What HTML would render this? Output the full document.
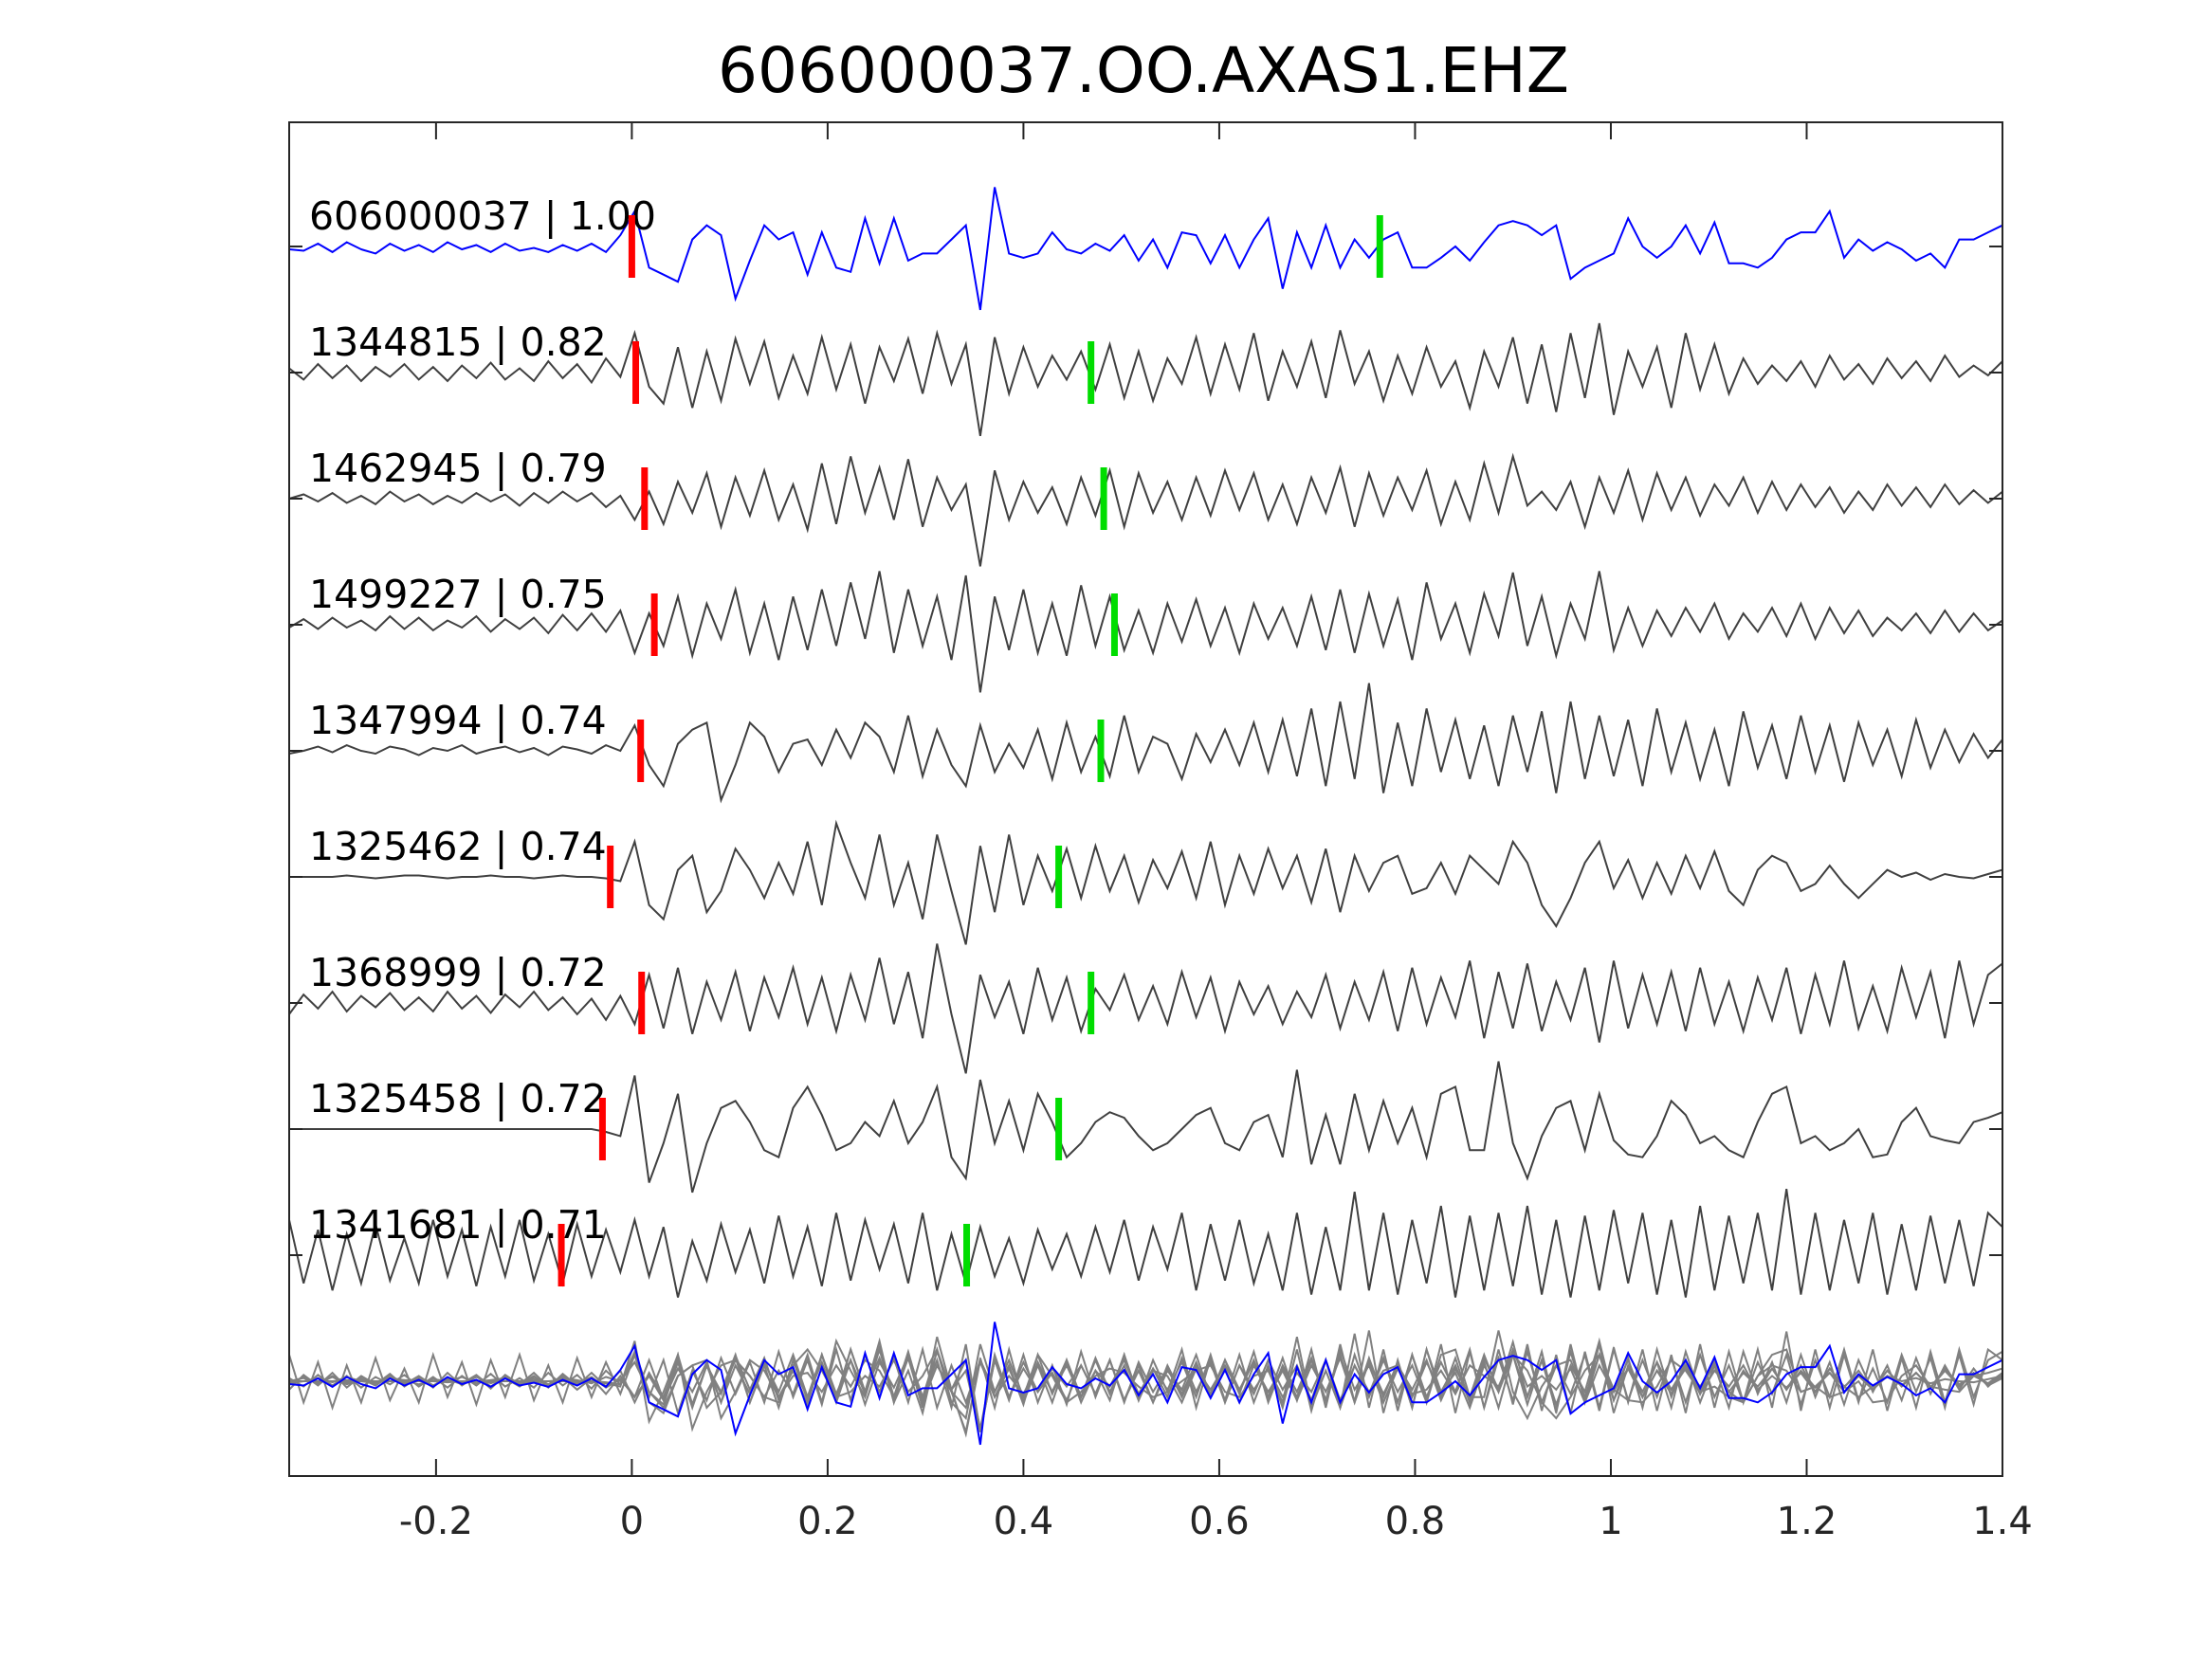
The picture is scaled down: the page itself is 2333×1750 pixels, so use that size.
<!DOCTYPE html>
<html><head><meta charset="utf-8"><style>
html,body{margin:0;padding:0;background:#fff;}
svg{display:block;}
text{font-family:"DejaVu Sans","Liberation Sans",sans-serif;}
</style></head><body>
<svg id="chart" width="2333" height="1750" viewBox="0 0 2333 1750" xmlns="http://www.w3.org/2000/svg">
<rect width="2333" height="1750" fill="#fff"/>
<text x="1206" y="97" font-size="66" text-anchor="middle" fill="#000">606000037.OO.AXAS1.EHZ</text>
<g id="plot"></g>
</svg>
<script>
const xTicks = [-0.2, 0, 0.2, 0.4, 0.6, 0.8, 1, 1.2, 1.4];
const xTickLabels = ["-0.2", "0", "0.2", "0.4", "0.6", "0.8", "1", "1.2", "1.4"];
const traceLabels = ["606000037 | 1.00","1344815 | 0.82","1462945 | 0.79","1499227 | 0.75","1347994 | 0.74","1325462 | 0.74","1368999 | 0.72","1325458 | 0.72","1341681 | 0.71"];
const redPicks = [0, 0.004, 0.013, 0.023, 0.009, -0.022, 0.010, -0.030, -0.072];
const greenPicks = [0.764, 0.469, 0.482, 0.493, 0.479, 0.436, 0.469, 0.436, 0.342];
const blueAmp = [-2,-3,2,-4,3,-2,-5,2,-3,1,-4,3,-2,1,-4,2,-3,-1,-4,1,-3,2,-4,8,
25,-15,-20,-25,5,15,8,-37,-10,15,5,10,-20,10,-15,-18,20,-12,20,-10,-5,-5,5,15,
-45,42,-5,-8,-5,10,-2,-5,2,-3,8,-10,5,-15,10,8,-12,8,-15,5,20,-30,10,-15,
15,-15,5,-8,5,10,-15,-15,-8,0,-10,3,15,18,15,8,15,-23,-15,-10,-5,20,0,-8,
0,15,-5,17,-12,-12,-15,-8,5,10,10,25,-8,5,-3,3,-2,-10,-5,-15,5,5,10,15];
const amp1 = [3,-5,6,-4,5,-6,4,-3,6,-5,4,-6,5,-4,7,-5,3,-6,8,-4,6,-7,10,-3,
28,-10,-22,18,-25,15,-20,24,-8,22,-18,12,-15,25,-12,20,-22,18,-6,24,-15,28,-8,20,
-45,25,-15,18,-10,12,-5,15,-12,20,-18,15,-20,10,-8,25,-15,20,-12,28,-20,15,-10,22,
-18,30,-8,15,-20,12,-15,18,-10,8,-25,15,-10,25,-22,20,-28,28,-18,35,-30,15,-10,18,
-25,28,-12,20,-15,10,-8,5,-6,8,-10,12,-5,6,-8,10,-4,8,-6,12,-3,5,-2,8];
const amp2 = [0,3,-2,4,-3,2,-4,5,-2,3,-4,2,-3,4,-2,3,-5,4,-3,5,-2,4,-6,2,
-15,5,-18,12,-10,18,-20,15,-12,20,-15,10,-22,25,-18,30,-10,22,-15,28,-20,15,-8,10,
-48,20,-15,12,-10,8,-18,15,-12,20,-20,18,-10,12,-15,15,-12,20,-8,18,-15,10,-18,15,
-10,22,-20,18,-12,15,-8,20,-18,12,-15,25,-10,30,-5,5,-8,12,-20,15,-10,20,-15,18,
-8,15,-12,10,-5,15,-10,12,-8,10,-6,8,-10,5,-8,10,-5,8,-6,10,-4,6,-3,5];
const amp3 = [-2,4,-3,5,-2,3,-4,6,-3,5,-4,3,-2,6,-5,4,-3,5,-6,7,-4,8,-5,10,
-20,8,-15,20,-22,15,-10,25,-20,15,-25,20,-18,25,-15,30,-10,38,-20,25,-15,20,-25,35,
-48,20,-18,25,-20,15,-22,28,-15,20,-18,10,-20,15,-12,18,-15,12,-20,15,-10,12,-15,20,
-18,25,-20,22,-15,18,-25,30,-10,15,-20,22,-8,37,-15,20,-22,15,-10,38,-18,12,-15,10,
-8,12,-5,15,-10,8,-5,12,-8,15,-10,12,-6,10,-8,5,-4,8,-6,10,-5,8,-4,3];
const amp4 = [-2,0,3,-1,4,0,-2,3,1,-3,2,0,4,-2,1,3,-1,2,-3,3,1,-2,4,0,
18,-10,-25,5,15,20,-35,-10,20,10,-15,5,8,-10,15,-5,20,10,-15,25,-18,15,-10,-25,
18,-15,5,-12,15,-20,20,-15,10,-18,25,-15,10,5,-20,12,-8,15,-10,20,-15,22,-18,30,
-25,35,-20,48,-30,20,-25,30,-15,22,-20,18,-25,25,-15,28,-30,35,-20,25,-18,22,-25,30,
-15,20,-20,15,-25,28,-12,18,-20,25,-15,18,-22,20,-10,15,-18,22,-12,15,-8,12,-5,8];
const amp5 = [0,0,0,0,1,0,-1,0,1,1,0,-1,0,0,1,0,0,-1,0,1,0,0,-1,-3,
25,-20,-30,5,15,-25,-10,20,5,-15,10,-12,25,-20,38,10,-15,30,-20,10,-30,30,-10,-48,
22,-25,30,-20,15,-10,20,-15,22,-10,15,-18,12,-8,18,-15,25,-20,15,-12,20,-8,15,-18,
20,-25,15,-10,10,15,-12,-8,10,-12,15,5,-5,25,10,-20,-35,-15,10,25,-8,12,-15,10,
-12,15,-8,18,-10,-20,5,15,10,-10,-5,8,-5,-15,-5,5,0,3,-2,2,0,-1,2,5];
const amp6 = [-8,6,-4,8,-6,5,-3,7,-5,4,-6,8,-4,5,-7,6,-3,8,-5,4,-8,3,-12,5,
-15,20,-18,25,-22,15,-12,22,-20,18,-10,25,-15,18,-20,20,-12,32,-15,22,-25,42,-8,-50,
20,-10,15,-22,25,-12,18,-20,10,-5,20,-12,12,-15,22,-10,18,-20,15,-8,12,-15,8,-10,
20,-18,15,-12,22,-20,25,-15,18,-10,30,-25,22,-18,28,-20,15,-12,25,-28,30,-18,20,-15,
22,-20,25,-15,15,-20,18,-12,25,-22,20,-15,30,-18,12,-20,25,-10,22,-25,30,-15,20,28];
const amp7 = [0,0,0,0,0,0,0,0,0,0,0,0,0,0,0,0,0,0,0,0,0,0,-2,-5,
38,-38,-10,25,-45,-10,15,20,5,-15,-20,15,30,10,-15,-10,5,-5,20,-10,5,30,-20,-35,
35,-10,20,-15,25,5,-20,-10,5,12,8,-5,-15,-10,0,10,15,-10,-15,5,10,-20,42,-25,
10,-25,25,-15,20,-10,15,-20,25,30,-15,-15,48,-10,-35,-5,15,20,-15,25,-8,-18,-20,-5,
20,10,-10,-5,-15,-20,5,25,30,-10,-5,-15,-10,0,-20,-18,5,15,-5,-8,-10,5,8,12];
const amp8 = [25,-20,18,-25,15,-20,22,-18,12,-20,25,-15,18,-22,20,-15,25,-18,15,-20,22,-15,18,-12,
25,-15,20,-30,10,-18,22,-12,18,-20,28,-15,20,-22,30,-18,25,-10,22,-20,30,-25,15,-20,
20,-15,12,-20,18,-10,15,-15,20,-12,25,-18,20,-10,30,-25,22,-18,25,-20,15,-25,30,-28,
20,-25,45,-25,30,-28,25,-20,35,-30,28,-25,30,-22,35,-28,25,-30,28,-25,32,-20,30,-28,
25,-30,35,-25,28,-20,30,-25,47,-28,30,-25,25,-20,30,-28,22,-25,28,-20,25,-22,30,20];
const grayTraces = [amp1, amp2, amp3, amp4, amp5, amp6, amp7, amp8];

const L=305, R=2112, T=129, B=1557, X0=-0.35, X1=1.4;
const K=1.487;
function xs(t){ return L + (t - X0) / (X1 - X0) * (R - L); }
function base(j){ return 260 + j * 133; }
function ys(a, j, s){ return base(j) - a * K * (s||1); }
const NS="http://www.w3.org/2000/svg";
const g=document.getElementById('plot');
function mk(tag, attrs){ const e=document.createElementNS(NS,tag); for(const k in attrs) e.setAttribute(k, attrs[k]); g.appendChild(e); return e; }
function pathFor(arr, j, s){
  const n=arr.length; let d='';
  for(let i=0;i<n;i++){ const t=X0+(X1-X0)*i/(n-1); d+=(i?'L':'M')+xs(t).toFixed(1)+','+ys(arr[i],j,s).toFixed(1); }
  return d;
}
grayTraces.forEach((arr,k)=>{
  const p=mk('path',{d:pathFor(arr,9,0.75),fill:'none',stroke:'#808080','stroke-width':2});
  
  
});
const sb=mk('path',{d:pathFor(blueAmp,9,1),fill:'none',stroke:'#0000ff','stroke-width':2});


const tb=mk('path',{d:pathFor(blueAmp,0,1),fill:'none',stroke:'#0000ff','stroke-width':2});


grayTraces.forEach((arr,k)=>{
  const p=mk('path',{d:pathFor(arr,k+1,1),fill:'none',stroke:'#404040','stroke-width':2});
  
  
});
traceLabels.forEach((lab,j)=>{
  const tx=mk('text',{x:326,y:base(j)-18,'font-size':41,fill:'#000'});
  tx.textContent=lab;
  
  
  const r=mk('rect',{x:xs(redPicks[j])-3.5,y:base(j)-33,width:7,height:66,fill:'#ff0000'});
  
  
  const gr=mk('rect',{x:xs(greenPicks[j])-3.5,y:base(j)-33,width:7,height:66,fill:'#00dd00'});
  
  
  const lt=mk('line',{x1:L,x2:L+14,y1:base(j),y2:base(j),stroke:'#262626','stroke-width':2});
  
  
  const rt=mk('line',{x1:R-14,x2:R,y1:base(j),y2:base(j),stroke:'#262626','stroke-width':2});
  
  
});
const box=mk('rect',{x:L,y:T,width:R-L,height:B-T,fill:'none',stroke:'#262626','stroke-width':2});


xTicks.forEach((v,i)=>{
  const x=xs(v);
  const a=mk('line',{x1:x,x2:x,y1:B,y2:B-18,stroke:'#262626','stroke-width':2});
  
  
  const b=mk('line',{x1:x,x2:x,y1:T,y2:T+18,stroke:'#262626','stroke-width':2});
  
  
  const tl=mk('text',{x:x,y:1618,'font-size':40,'text-anchor':'middle',fill:'#262626'});
  tl.textContent=xTickLabels[i];
  
  
});
</script>
</body></html>
